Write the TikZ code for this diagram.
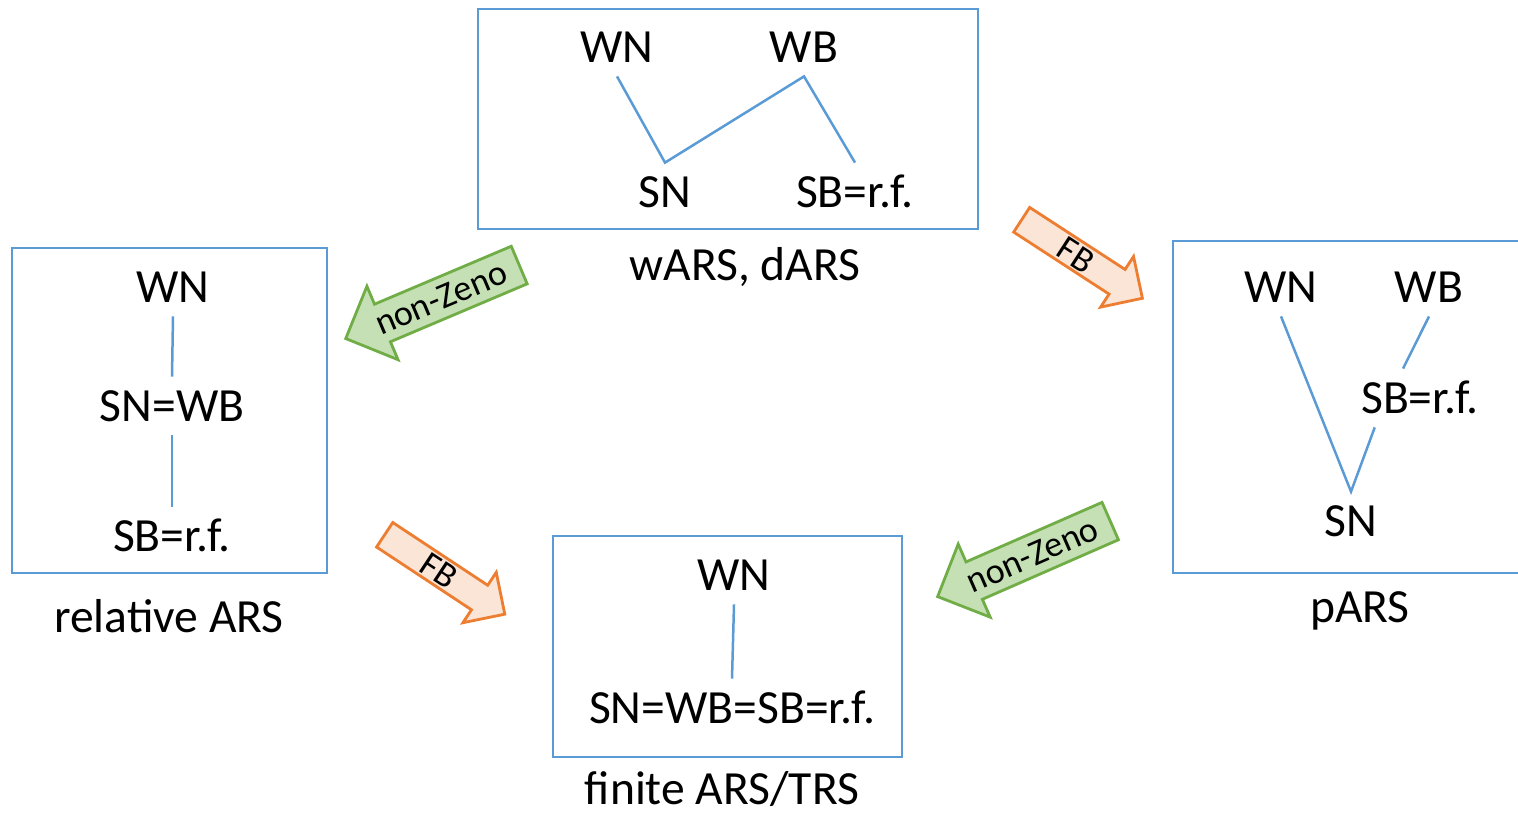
\documentclass[tikz,border=0pt]{standalone}
\usepackage{fontspec}
\setmainfont{Carlito}
\usetikzlibrary{shapes.arrows,calc}
\definecolor{boxblue}{HTML}{5B9BD5}
\definecolor{grfill}{HTML}{C5E0B4}
\definecolor{grline}{HTML}{70AD47}
\definecolor{orfill}{HTML}{FBE5D6}
\definecolor{orline}{HTML}{ED7D31}
\begin{document}
\begin{tikzpicture}[x=0.5pt,y=-0.5pt,
  frame/.style={draw=boxblue,line width=1.4pt},
  term/.style={font=\fontsize{23.8}{28}\selectfont, inner sep=7pt, text height=15pt, text depth=0pt, anchor=base},
  caption/.style={font=\fontsize{23.8}{28}\selectfont, inner sep=0pt, anchor=base},
  link/.style={draw=boxblue, line width=1.25pt},
  zenoarrow/.style={single arrow, draw=grline, fill=grfill, line width=1.4pt, single arrow head extend=9.75pt, text height=19pt, text depth=0pt, inner sep=0pt, minimum height=94.2pt, anchor=tail},
  fbarrow/.style={single arrow, draw=orline, fill=orfill, line width=1.4pt, single arrow head extend=7.75pt, text height=13.3pt, text depth=0pt, inner sep=0pt, minimum height=72pt, anchor=tail},
  arrowlabel/.style={font=\fontsize{18}{21}\selectfont, inner sep=0pt}
]
\useasboundingbox (0,0) rectangle (1518,814);

% top box: wARS, dARS
\draw[frame] (478,9) rectangle (978,229);
\node[term] (wn1) at (617,62) {WN};
\node[term] (wb1) at (804,62) {WB};
\node[term] (sn1) at (665,207) {SN};
\node[term] (sb1) at (855,207) {SB=r.f.};
\draw[link] (wn1.south) -- (sn1.north) -- (wb1.south) -- (sb1.north);
\node[caption] (c1) at (745,280) {wARS, dARS};

% left box: relative ARS
\draw[frame] (12,248) rectangle (327,573);
\node[term] (wn2) at (173,302) {WN};
\node[term] (sw2) at (172,421) {SN=WB};
\node[term] (sb2) at (172,551) {SB=r.f.};
\draw[link] (wn2.south) -- (sw2.north);
\draw[link] (sw2.south) -- (sb2.north);
\node[caption] (c2) at (169,632) {relative ARS};

% bottom box: finite ARS/TRS
\draw[frame] (553,536) rectangle (902,757);
\node[term] (wn4) at (734,590) {WN};
\node[term] (all4) at (732,723) {SN=WB=SB=r.f.};
\draw[link] (wn4.south) -- (all4.north);
\node[caption] (c4) at (722,804) {finite ARS/TRS};

% right box: pARS
\draw[frame] (1173,241) rectangle (1540,573);
\node[term] (wn3) at (1281,302) {WN};
\node[term] (wb3) at (1429,302) {WB};
\node[term] (sb3) at (1420,413) {SB=r.f.};
\node[term] (sn3) at (1351,536) {SN};
\draw[link] (wn3.south) -- (sn3.north) -- (sb3.213);
\draw[link] (wb3.south) -- (sb3.120);
\node[caption] (c3) at (1360,622) {pARS};

% arrows
\node[zenoarrow, rotate=202.96] (a1) at (520.5,264.5) {};
\node[arrowlabel, rotate=22.96] (l1) at ($(a1.tail)!0.45!(a1.tip)$) {non-Zeno};

\node[fbarrow, rotate=-33.03] (a2) at (1020.5,219) {};
\node[arrowlabel, rotate=-33.03] (l2) at ($(a2.tail)!0.45!(a2.tip)$) {FB};

\node[fbarrow, rotate=-33.47] (a3) at (383.5,534) {};
\node[arrowlabel, rotate=-33.47] (l3) at ($(a3.tail)!0.45!(a3.tip)$) {FB};

\node[zenoarrow, rotate=203.64] (a4) at (1111.5,520.5) {};
\node[arrowlabel, rotate=23.64] (l4) at ($(a4.tail)!0.45!(a4.tip)$) {non-Zeno};
\end{tikzpicture}
\end{document}
